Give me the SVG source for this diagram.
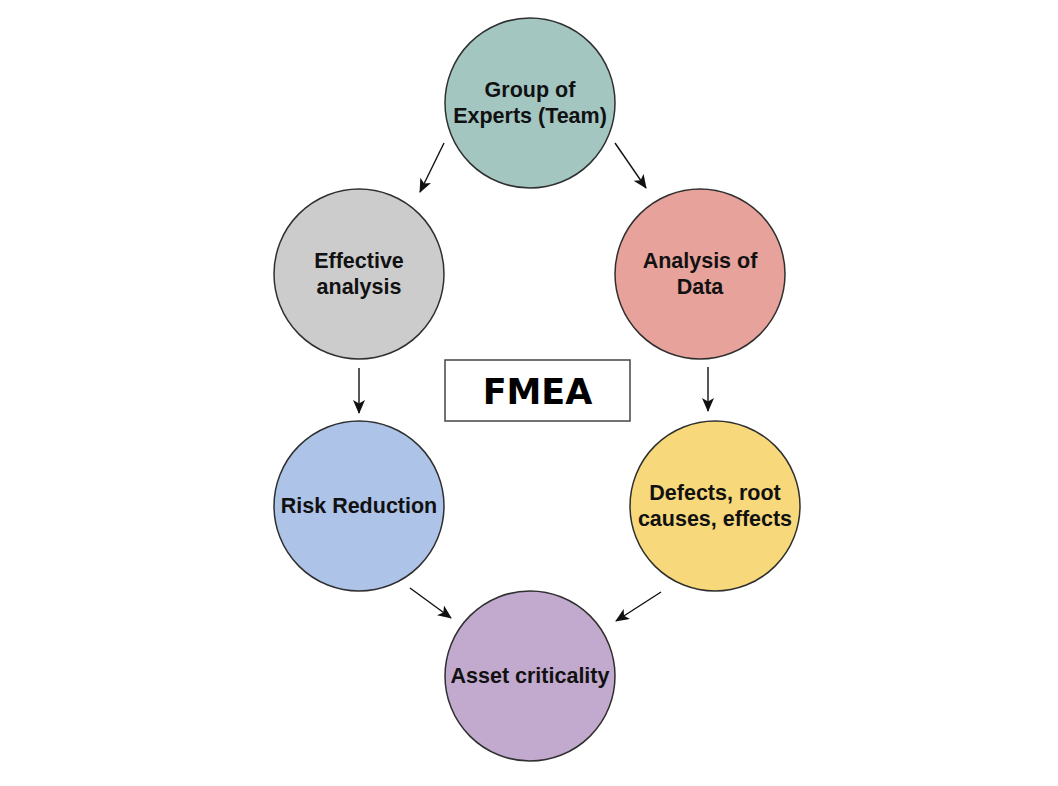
<svg xmlns="http://www.w3.org/2000/svg" width="1058" height="786" viewBox="0 0 1058 786">
<defs>
<style>
.node circle{stroke:#2f2f2f;stroke-width:1.5}
.node text{font-family:"Liberation Sans",Arial,sans-serif;font-weight:bold;font-size:21.5px;fill:#111;text-anchor:middle}
.conn line{stroke:#111;stroke-width:1.4;fill:none;marker-end:url(#ah)}
.node text.title{font-family:"DejaVu Sans",Verdana,sans-serif;font-weight:bold;font-size:35px;fill:#000;text-anchor:middle}
</style>
<marker id="ah" viewBox="0 0 14 12" refX="13" refY="6" markerWidth="14" markerHeight="12" markerUnits="userSpaceOnUse" orient="auto">
<path d="M0,0 L14,6 L0,12 L3.5,6 Z" fill="#111"/>
</marker>
</defs>
<rect width="1058" height="786" fill="#fff"/>
<g id="connectors" class="conn">
<line x1="444" y1="143" x2="420" y2="192"/>
<line x1="615" y1="143" x2="646" y2="188"/>
<line x1="359" y1="368" x2="359" y2="413"/>
<line x1="708" y1="367" x2="708" y2="411"/>
<line x1="410" y1="588" x2="451" y2="618"/>
<line x1="661" y1="592" x2="616" y2="621"/>
</g>
<g id="group-of-experts" class="node">
<circle cx="530" cy="103" r="85" fill="#a3c6c1"/>
<text x="530" y="97">Group of</text>
<text x="530" y="123">Experts (Team)</text>
</g>
<g id="effective-analysis" class="node">
<circle cx="359" cy="274" r="85" fill="#cccccc"/>
<text x="359" y="268">Effective</text>
<text x="359" y="294">analysis</text>
</g>
<g id="analysis-of-data" class="node">
<circle cx="700" cy="274" r="85" fill="#e7a29b"/>
<text x="700" y="268">Analysis of</text>
<text x="700" y="294">Data</text>
</g>
<g id="fmea" class="node">
<rect x="445" y="360" width="185" height="61" fill="#fff" stroke="#444" stroke-width="1.5"/>
<text class="title" x="537.5" y="404">FMEA</text>
</g>
<g id="risk-reduction" class="node">
<circle cx="359" cy="506" r="85" fill="#adc3e8"/>
<text x="359" y="513">Risk Reduction</text>
</g>
<g id="defects" class="node">
<circle cx="715" cy="506" r="85" fill="#f7d87a"/>
<text x="715" y="500">Defects, root</text>
<text x="715" y="526">causes, effects</text>
</g>
<g id="asset-criticality" class="node">
<circle cx="530" cy="676" r="85" fill="#c1aacd"/>
<text x="530" y="683">Asset criticality</text>
</g>
</svg>
